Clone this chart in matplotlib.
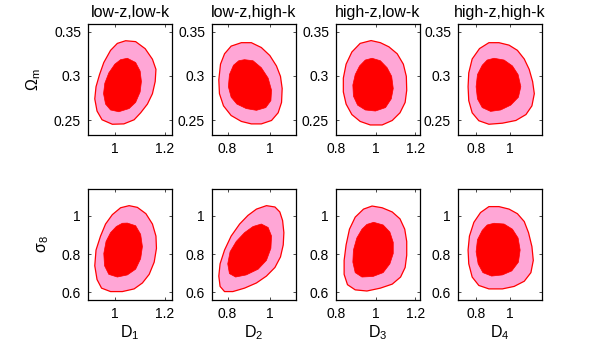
"""
D_i 与 (Omega_m, sigma_8) 的二维置信区域图 (68% / 95%)
2 行 x 4 列，复刻参考图
"""

import matplotlib
matplotlib.use("Agg")
import matplotlib.pyplot as plt

plt.rcParams["font.family"] = ["Liberation Sans", "DejaVu Sans"]
plt.rcParams["mathtext.fontset"] = "custom"
plt.rcParams["mathtext.rm"] = "Liberation Sans"
plt.rcParams["mathtext.it"] = "Liberation Sans:italic"

# ─── 数据（从图中读取的等值线轮廓，数据坐标） ─────────────────────────────────

TITLES = ["low-z,low-k", "low-z,high-k", "high-z,low-k", "high-z,high-k"]
XLABELS = ["D$_1$", "D$_2$", "D$_3$", "D$_4$"]
YLABELS = ["Ω$_\\mathrm{m}$", "σ$_8$"]

XLIMS = [(0.893, 1.228), (0.727, 1.122), (0.80, 1.224), (0.694, 1.186)]
YLIMS = [(0.233, 0.359), (0.56, 1.14)]
XTICKS = [[1, 1.2], [0.8, 1], [0.8, 1, 1.2], [0.8, 1]]
YTICKS = [[0.25, 0.3, 0.35], [0.6, 0.8, 1]]

# 95% 区域（外圈），上行: Omega_m
om_out_x = [
    [1.043, 1.083, 1.121, 1.150, 1.164, 1.161, 1.150, 1.130, 1.103, 1.077,
     1.036, 0.990, 0.949, 0.929, 0.920, 0.925, 0.939, 0.956, 0.983, 1.010],
    [0.865, 0.912, 0.959, 0.999, 1.030, 1.049, 1.057, 1.054, 1.038, 1.007,
     0.959, 0.912, 0.865, 0.817, 0.781, 0.762, 0.759, 0.767, 0.786, 0.817],
    [0.977, 1.024, 1.067, 1.109, 1.140, 1.155, 1.157, 1.149, 1.123, 1.084,
     1.033, 0.973, 0.922, 0.880, 0.851, 0.837, 0.837, 0.851, 0.880, 0.922],
    [0.875, 0.934, 0.993, 1.042, 1.082, 1.111, 1.131, 1.141, 1.127, 1.092,
     1.033, 0.954, 0.875, 0.816, 0.777, 0.757, 0.753, 0.757, 0.777, 0.820],
]
om_out_y = [
    [0.340, 0.339, 0.331, 0.319, 0.3075, 0.2937, 0.2799, 0.2681, 0.2582, 0.2503,
     0.2456, 0.2452, 0.2503, 0.2602, 0.274, 0.2878, 0.3016, 0.3153, 0.3291, 0.337],
    [0.3378, 0.3378, 0.3323, 0.3232, 0.3114, 0.2996, 0.2858, 0.270, 0.2582, 0.2495,
     0.2456, 0.2456, 0.2484, 0.2551, 0.2661, 0.2799, 0.2956, 0.3134, 0.3252, 0.3339],
    [0.3402, 0.3378, 0.3331, 0.3252, 0.3134, 0.2996, 0.2838, 0.270, 0.2582, 0.2495,
     0.2444, 0.2444, 0.2484, 0.2562, 0.2681, 0.2819, 0.2976, 0.3134, 0.3272, 0.337],
    [0.3378, 0.3378, 0.335, 0.3291, 0.3193, 0.3075, 0.2937, 0.2799, 0.2661, 0.2562,
     0.2495, 0.2464, 0.2452, 0.2492, 0.2582, 0.272, 0.2878, 0.3035, 0.3193, 0.3311],
]

# 68% 区域（内圈），上行
om_in_x = [
    [1.050, 1.083, 1.101, 1.106, 1.101, 1.083, 1.057, 1.016, 0.983, 0.963,
     0.955, 0.960, 0.976, 1.000, 1.023],
    [0.880, 0.920, 0.959, 0.991, 1.007, 1.004, 0.980, 0.936, 0.888, 0.844,
     0.817, 0.804, 0.809, 0.828, 0.853],
    [0.982, 1.024, 1.058, 1.081, 1.089, 1.079, 1.050, 0.999, 0.948, 0.909,
     0.888, 0.885, 0.897, 0.919, 0.948],
    [0.905, 0.964, 1.013, 1.046, 1.062, 1.048, 1.003, 0.944, 0.885, 0.836,
     0.808, 0.800, 0.808, 0.836, 0.865],
]
om_in_y = [
    [0.3201, 0.3153, 0.3055, 0.2937, 0.2819, 0.270, 0.263, 0.2594, 0.2614, 0.2681,
     0.2799, 0.2917, 0.3035, 0.3134, 0.3185],
    [0.3185, 0.3173, 0.3094, 0.2976, 0.2838, 0.272, 0.2641, 0.261, 0.263, 0.2681,
     0.2759, 0.2878, 0.3016, 0.3122, 0.3173],
    [0.3201, 0.3173, 0.3094, 0.2996, 0.2858, 0.274, 0.2641, 0.2602, 0.2614, 0.2669,
     0.2771, 0.2897, 0.3016, 0.3114, 0.3181],
    [0.3201, 0.3181, 0.3114, 0.3016, 0.2878, 0.2759, 0.2669, 0.2614, 0.2598, 0.2641,
     0.274, 0.2878, 0.3016, 0.3122, 0.3181],
]

# 95% 区域（外圈），下行: sigma_8
s8_out_x = [
    [1.057, 1.090, 1.124, 1.150, 1.164, 1.166, 1.157, 1.137, 1.110, 1.077,
     1.030, 0.983, 0.947, 0.929, 0.920, 0.925, 0.943, 0.963, 0.990, 1.023],
    [0.983, 1.023, 1.046, 1.059, 1.065, 1.062, 1.049, 1.023, 0.983, 0.936,
     0.880, 0.825, 0.786, 0.765, 0.759, 0.765, 0.786, 0.817, 0.857, 0.896, 0.936],
    [0.982, 1.033, 1.084, 1.123, 1.147, 1.157, 1.157, 1.149, 1.126, 1.084,
     1.024, 0.956, 0.897, 0.858, 0.841, 0.841, 0.851, 0.868, 0.897, 0.939],
    [0.875, 0.934, 0.993, 1.042, 1.082, 1.107, 1.127, 1.135, 1.121, 1.082,
     1.023, 0.954, 0.875, 0.816, 0.777, 0.757, 0.753, 0.761, 0.787, 0.826],
]
s8_out_y = [
    [1.053, 1.044, 1.011, 0.957, 0.894, 0.830, 0.758, 0.694, 0.649, 0.618,
     0.604, 0.604, 0.622, 0.667, 0.739, 0.821, 0.894, 0.957, 1.006, 1.042],
    [1.053, 1.046, 1.020, 0.975, 0.912, 0.848, 0.785, 0.730, 0.685, 0.649,
     0.622, 0.604, 0.604, 0.631, 0.685, 0.749, 0.821, 0.894, 0.957, 1.002, 1.035],
    [1.051, 1.042, 1.020, 0.984, 0.930, 0.866, 0.794, 0.730, 0.680, 0.643,
     0.622, 0.607, 0.613, 0.640, 0.694, 0.767, 0.848, 0.930, 0.993, 1.035],
    [1.048, 1.048, 1.035, 1.011, 0.970, 0.912, 0.839, 0.767, 0.703, 0.658,
     0.631, 0.618, 0.618, 0.636, 0.680, 0.749, 0.821, 0.894, 0.966, 1.017],
]

# 68% 区域（内圈），下行
s8_in_x = [
    [1.050, 1.083, 1.103, 1.110, 1.103, 1.083, 1.050, 1.010, 0.976, 0.959,
     0.956, 0.965, 0.983, 1.006, 1.030],
    [0.959, 0.991, 1.007, 1.004, 0.983, 0.944, 0.888, 0.838, 0.809, 0.801,
     0.812, 0.841, 0.880, 0.920],
    [0.990, 1.038, 1.072, 1.089, 1.089, 1.072, 1.038, 0.987, 0.931, 0.897,
     0.885, 0.888, 0.905, 0.931, 0.956],
    [0.905, 0.964, 1.013, 1.046, 1.058, 1.048, 1.009, 0.954, 0.891, 0.840,
     0.812, 0.800, 0.808, 0.836, 0.865],
]
s8_in_y = [
    [0.962, 0.948, 0.903, 0.839, 0.776, 0.721, 0.691, 0.680, 0.694, 0.739,
     0.803, 0.866, 0.912, 0.944, 0.961],
    [0.957, 0.939, 0.894, 0.830, 0.767, 0.721, 0.691, 0.680, 0.698, 0.749,
     0.812, 0.866, 0.912, 0.944],
    [0.966, 0.952, 0.915, 0.861, 0.803, 0.749, 0.703, 0.683, 0.680, 0.703,
     0.758, 0.821, 0.884, 0.930, 0.955],
    [0.961, 0.957, 0.930, 0.884, 0.821, 0.758, 0.712, 0.691, 0.685, 0.703,
     0.749, 0.812, 0.875, 0.924, 0.952],
]

OUT_X = [om_out_x, s8_out_x]
OUT_Y = [om_out_y, s8_out_y]
IN_X = [om_in_x, s8_in_x]
IN_Y = [om_in_y, s8_in_y]

PINK = "#ffa6d6"
RED = "#ff0000"

# ─── 绘图 ─────────────────────────────────────────────────────────────────────

fig = plt.figure(figsize=(5.99, 3.46), dpi=100)

col_left = [88, 212, 336, 458]   # 像素
row_top = [24, 189]
ax_w, ax_h = 84, 111
W, H = 599, 346


def fmt(v):
    s = f"{v:g}"
    return s


for r in range(2):
    for c in range(4):
        ax = fig.add_axes([col_left[c] / W, 1 - (row_top[r] + ax_h) / H,
                           ax_w / W, ax_h / H])
        ax.fill(OUT_X[r][c], OUT_Y[r][c], facecolor=PINK, edgecolor=RED,
                lw=0.9, joinstyle="round")
        ax.fill(IN_X[r][c], IN_Y[r][c], facecolor=RED, edgecolor=RED,
                lw=0.5, joinstyle="round")

        ax.set_xlim(*XLIMS[c])
        ax.set_ylim(*YLIMS[r])
        ax.set_xticks(XTICKS[c])
        ax.set_xticklabels([fmt(v) for v in XTICKS[c]])
        ax.set_yticks(YTICKS[r])
        ax.set_yticklabels([fmt(v) for v in YTICKS[r]])
        ax.tick_params(direction="in", length=2.5, width=0.5,
                       top=True, right=True, labelsize=10, pad=5)
        for sp in ax.spines.values():
            sp.set_linewidth(0.9)

        if r == 0:
            ax.set_title(TITLES[c], fontsize=11.5, pad=5)
        else:
            ax.set_xlabel(XLABELS[c], fontsize=11.5, labelpad=2)
        if c == 0:
            ax.set_ylabel(YLABELS[r], fontsize=11.5, labelpad=8)

fig.savefig("out.png", dpi=100)
